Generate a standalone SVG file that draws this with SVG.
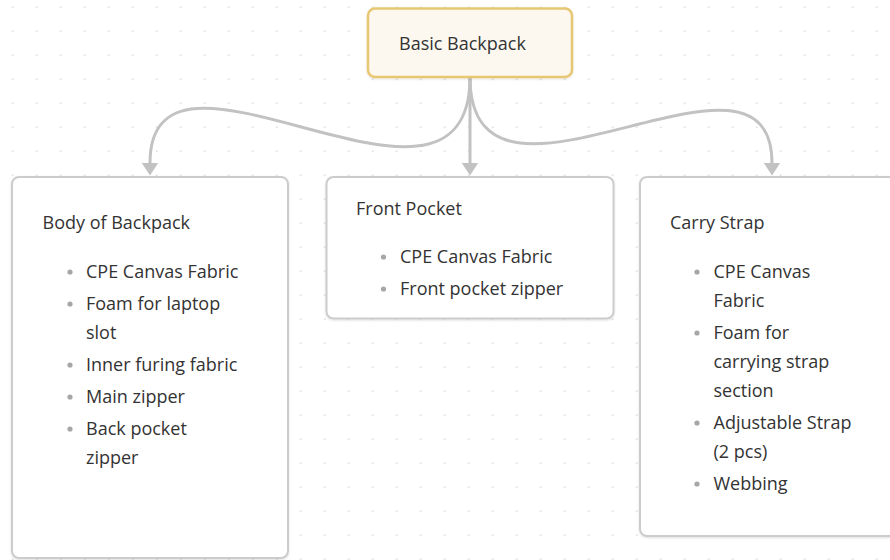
<svg xmlns="http://www.w3.org/2000/svg" width="890" height="560" viewBox="0 0 890 560">
  <defs>
    <pattern id="dots" x="0" y="0" width="24" height="24" patternUnits="userSpaceOnUse">
      <circle cx="12.7" cy="7.3" r="1" fill="#e2e2e2"/>
    </pattern>
    <marker id="arrow" viewBox="0 0 13 17" refX="0.5" refY="8.5" markerWidth="13" markerHeight="17" markerUnits="userSpaceOnUse" orient="auto">
      <path d="M0,0 L13,8.5 L0,17 Z" fill="#c2c2c2"/>
    </marker>
    <filter id="shadow" x="-10%" y="-10%" width="120%" height="120%">
      <feDropShadow dx="0" dy="1" stdDeviation="1.2" flood-color="#000" flood-opacity="0.12"/>
    </filter>
    <style>
      text { font-family: "Open Sans", "Liberation Sans", sans-serif; fill: #333333; }
      .title { font-size: 18px; }
      .item { font-size: 18px; }
      .bullet { fill: #a6a6a6; }
      .box { fill: #ffffff; stroke: #cccccc; stroke-width: 2; filter: url(#shadow); }
      .root { fill: #fcf8ef; stroke: #e8c772; stroke-width: 2.5; filter: url(#shadow); }
      .conn { fill: none; stroke: #c2c2c2; stroke-width: 3; }
    </style>
  </defs>

  <rect x="0" y="0" width="890" height="560" fill="#ffffff"/>
  <rect x="0" y="0" width="890" height="560" fill="url(#dots)"/>

  <g id="connectors">
    <path class="conn" d="M470,77 C470,261 150,4 150,163" marker-end="url(#arrow)"/>
    <path class="conn" d="M470,77 L470,163" marker-end="url(#arrow)"/>
    <path class="conn" d="M470,77 C470,251 772,12 772,163" marker-end="url(#arrow)"/>
  </g>

  <g id="node-root">
    <rect class="root" x="368" y="8.5" width="204" height="68.5" rx="7"/>
    <text class="title" x="399" y="50">Basic Backpack</text>
  </g>

  <g id="node-body">
    <rect class="box" x="12" y="177" width="276" height="381" rx="7"/>
    <text class="title" x="42.5" y="229">Body of Backpack</text>
    <circle class="bullet" cx="70" cy="272" r="2.6"/>
    <text class="item" x="86" y="278">CPE Canvas Fabric</text>
    <circle class="bullet" cx="70" cy="304" r="2.6"/>
    <text class="item" x="86" y="310">Foam for laptop</text>
    <text class="item" x="86" y="339">slot</text>
    <circle class="bullet" cx="70" cy="365" r="2.6"/>
    <text class="item" x="86" y="371">Inner furing fabric</text>
    <circle class="bullet" cx="70" cy="397" r="2.6"/>
    <text class="item" x="86" y="403">Main zipper</text>
    <circle class="bullet" cx="70" cy="429" r="2.6"/>
    <text class="item" x="86" y="435">Back pocket</text>
    <text class="item" x="86" y="464">zipper</text>
  </g>

  <g id="node-front">
    <rect class="box" x="326.5" y="177" width="287" height="141.5" rx="7"/>
    <text class="title" x="356" y="215">Front Pocket</text>
    <circle class="bullet" cx="383.5" cy="257" r="2.6"/>
    <text class="item" x="400" y="263">CPE Canvas Fabric</text>
    <circle class="bullet" cx="383.5" cy="289" r="2.6"/>
    <text class="item" x="400" y="295">Front pocket zipper</text>
  </g>

  <g id="node-strap">
    <rect class="box" x="640" y="177" width="270" height="359" rx="7"/>
    <text class="title" x="670" y="229">Carry Strap</text>
    <circle class="bullet" cx="697" cy="272" r="2.6"/>
    <text class="item" x="713.5" y="278">CPE Canvas</text>
    <text class="item" x="713.5" y="307">Fabric</text>
    <circle class="bullet" cx="697" cy="333" r="2.6"/>
    <text class="item" x="713.5" y="339">Foam for</text>
    <text class="item" x="713.5" y="368">carrying strap</text>
    <text class="item" x="713.5" y="397">section</text>
    <circle class="bullet" cx="697" cy="423" r="2.6"/>
    <text class="item" x="713.5" y="429">Adjustable Strap</text>
    <text class="item" x="713.5" y="458">(2 pcs)</text>
    <circle class="bullet" cx="697" cy="484" r="2.6"/>
    <text class="item" x="713.5" y="490">Webbing</text>
  </g>
</svg>
